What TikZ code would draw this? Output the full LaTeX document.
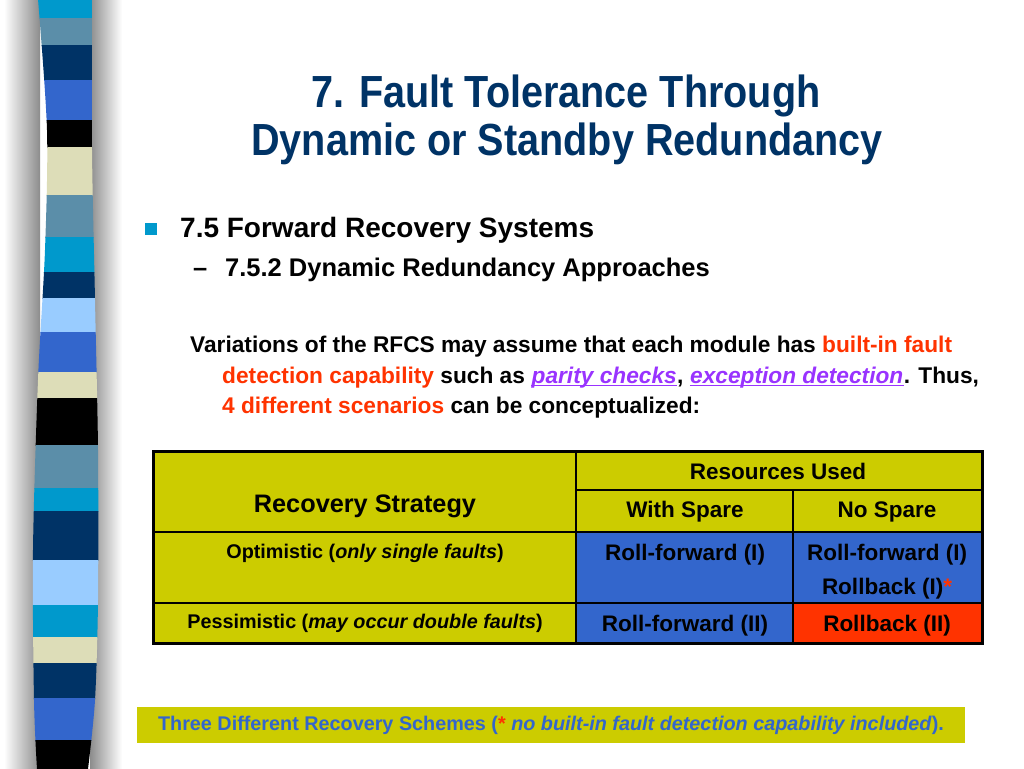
\documentclass[tikz,border=0pt]{standalone}
\usepackage{fontspec}
\setmainfont{Liberation Sans}
\newfontfamily\narrowfont[FakeStretch=0.88]{Liberation Sans}
\usepackage{tikz}

\definecolor{ink}{HTML}{010101}
\definecolor{titleblue}{HTML}{003366}
\definecolor{stripcyan}{HTML}{0099CC}
\definecolor{stripgray}{HTML}{5B8EA9}
\definecolor{stripnavy}{HTML}{003366}
\definecolor{stripblue}{HTML}{3366CC}
\definecolor{stripcream}{HTML}{DDDDB8}
\definecolor{striplight}{HTML}{99CCFF}
\definecolor{shadowgray}{HTML}{8C8C8C}
\definecolor{alertred}{HTML}{FF3300}
\definecolor{linkpurple}{HTML}{9933FF}
\definecolor{tabyellow}{HTML}{CCCC00}
\definecolor{cellblue}{HTML}{3366CC}
\definecolor{cellred}{HTML}{FF3300}
\definecolor{noteblue}{HTML}{3366CC}

\begin{document}
\begin{tikzpicture}[x=1pt, y=-1pt, font=\bfseries,
    txt/.style={inner sep=0pt, anchor=base, text=ink},
    txtl/.style={inner sep=0pt, anchor=base west, text=ink},
    paratxt/.style={txtl, font=\bfseries\fontsize{22.7}{26}\selectfont},
    celltxt/.style={txt, font=\bfseries\fontsize{22.5}{26}\selectfont}]
    \useasboundingbox (0,0) rectangle (1024,768);
    \fill[white] (0,0) rectangle (1024,768);

    % Table cells
    \fill[tabyellow] (153,451) rectangle (982,532);
    \fill[tabyellow] (153,532) rectangle (576,643);
    \fill[cellblue] (576,532) rectangle (982,603);
    \fill[cellblue] (576,603) rectangle (793,643);
    \fill[cellred] (793,603) rectangle (982,643);

    % Table rules
    \draw[ink, line width=1.5pt] (576,490) -- (982,490);
    \draw[ink, line width=1.5pt] (153,532) -- (982,532);
    \draw[ink, line width=1.5pt] (153,603) -- (982,603);
    \draw[ink, line width=1.5pt] (576,451) -- (576,643);
    \draw[ink, line width=1.5pt] (793,490) -- (793,643);
    \draw[ink, line width=3pt] (153,451) rectangle (982,643);

    % Table texts
    \node[txt, font=\bfseries\fontsize{25.3}{29}\selectfont] (strategy) at (365,512) {Recovery Strategy};
    \node[celltxt] (resources) at (778,479) {Resources Used};
    \node[celltxt] (withspare) at (685,517) {With Spare};
    \node[celltxt] (nospare) at (887,517) {No Spare};
    \node[txt, font=\bfseries\fontsize{19.8}{23}\selectfont] (optimistic) at (365,558) {Optimistic (\textit{only single faults})};
    \node[txt, font=\bfseries\fontsize{19.8}{23}\selectfont] (pessimistic) at (365,628) {Pessimistic (\textit{may occur double faults})};
    \node[celltxt] (rfone) at (685,560) {Roll-forward (I)};
    \node[celltxt] (rfonens) at (887,560) {Roll-forward (I)};
    \node[celltxt] (rbone) at (887,594) {Rollback (I)\textcolor{alertred}{*}};
    \node[celltxt] (rftwo) at (685,631) {Roll-forward (II)};
    \node[celltxt] (rbtwo) at (887,631) {Rollback (II)};

    % Note box at the bottom
    \node[fill=tabyellow, minimum width=828pt, minimum height=36pt, inner sep=0pt,
        font=\bfseries\fontsize{19.8}{23}\selectfont, text=noteblue] (note) at (551,725)
        {Three Different Recovery Schemes (\textcolor{alertred}{*} \textit{no built-in fault detection capability included}).};

    % Shadow on both sides of the strip
    \shade[left color=white, right color=shadowgray] (4,0) rectangle (40,768);
    \shade[left color=shadowgray, right color=white] (90,0) rectangle (122,768);

    % Striped bar on the left
    \begin{scope}
        \clip plot[smooth] coordinates {(38,-1) (47,130) (45,250) (38,380) (33,550) (34,700) (37,769)}
            -- plot[smooth] coordinates {(88,769) (95,700) (98,600) (98,450) (95,300) (92,150) (92,-1)} -- cycle;
        \foreach \ya/\yb/\c in {0/18/stripcyan, 18/45/stripgray, 45/80/stripnavy, 80/120/stripblue,
            120/147/black, 147/195/stripcream, 195/237/stripgray, 237/272/stripcyan,
            272/298/stripnavy, 298/332/striplight, 332/372/stripblue, 372/398/stripcream,
            398/445/black, 445/488/stripgray, 488/511/stripcyan, 511/560/stripnavy,
            560/605/striplight, 605/637/stripcyan, 637/663/stripcream, 663/698/stripnavy,
            698/740/stripblue, 740/769/black} {
            \fill[\c] (20,\ya) rectangle (110,\yb+0.6);
        }
    \end{scope}

    % Title
    \node[txt, font=\narrowfont\bfseries\fontsize{45}{50}\selectfont, text=titleblue] (title1) at (566,107) {7. Fault Tolerance Through};
    \node[txt, font=\narrowfont\bfseries\fontsize{45}{50}\selectfont, text=titleblue] (title2) at (567,155) {Dynamic or Standby Redundancy};

    % Bullet and headings
    \node[fill=stripcyan, minimum size=12pt, inner sep=0pt] (bullet) at (151,229) {};
    \node[txtl, font=\bfseries\fontsize{28}{32}\selectfont] (head) at (180,237) {7.5 Forward Recovery Systems};
    \node[txtl, font=\bfseries\fontsize{25.5}{30}\selectfont] (dash) at (193,276) {–};
    \node[txtl, font=\bfseries\fontsize{25.5}{30}\selectfont] (subhead) at (225,276) {7.5.2 Dynamic Redundancy Approaches};

    % Paragraph
    \node[paratxt] (para1) at (190,352)
        {Variations of the RFCS may assume that each module has \textcolor{alertred}{built-in fault}};
    \node[paratxt] (para2) at (222,383) {\textcolor{alertred}{detection capability} such as};
    \node[paratxt, text=linkpurple] (parity) at ([xshift=6.3pt]para2.base east) {\itshape parity checks};
    \node[paratxt] (comma) at (parity.base east) {,};
    \node[paratxt, text=linkpurple] (exception) at ([xshift=6.3pt]comma.base east) {\itshape exception detection};
    \node[paratxt] (thus) at (exception.base east) {. Thus,};
    \draw[linkpurple, line width=1.4pt] ([yshift=-2.5pt]parity.base west) -- ([yshift=-2.5pt]parity.base east);
    \draw[linkpurple, line width=1.4pt] ([yshift=-2.5pt]exception.base west) -- ([yshift=-2.5pt]exception.base east);
    \node[paratxt] (para3) at (222,413)
        {\textcolor{alertred}{4 different scenarios} can be conceptualized:};
\end{tikzpicture}
\end{document}
